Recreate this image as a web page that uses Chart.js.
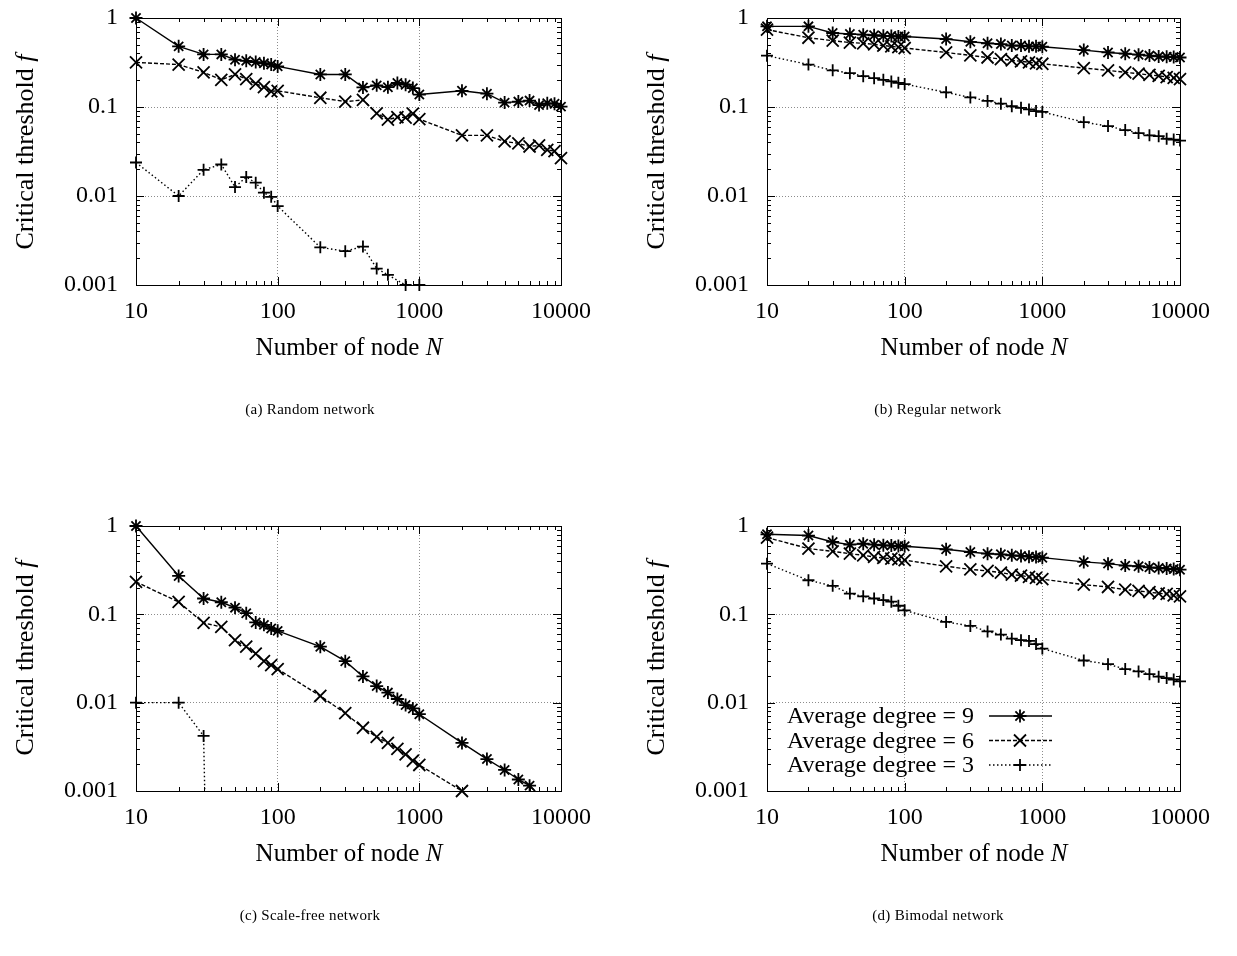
<!DOCTYPE html>
<html>
<head>
<meta charset="utf-8">
<script src="https://cdn.jsdelivr.net/npm/chart.js@4.4.1/dist/chart.umd.min.js"></script>
<style>
  body { margin: 0; background: #fff; width: 1237px; height: 956px; position: relative; overflow: hidden;
         font-family: "Liberation Serif", "Times New Roman", serif; color: #000; }
  canvas { position: absolute; }
  .yt { position: absolute; font-size: 26px; white-space: nowrap; transform: translate(-50%, -50%) rotate(-90deg); }
  .xt { position: absolute; font-size: 25px; white-space: nowrap; transform: translate(-50%, -50%); }
  .cap { position: absolute; font-size: 15px; letter-spacing: 0.3px; white-space: nowrap; transform: translate(-50%, -50%); }
</style>
</head>
<body>
<canvas id="chart-a" width="618" height="370" style="left:0;top:0"></canvas>
<canvas id="chart-b" width="619" height="370" style="left:618px;top:0"></canvas>
<canvas id="chart-c" width="618" height="370" style="left:0;top:508px"></canvas>
<canvas id="chart-d" width="619" height="370" style="left:618px;top:508px"></canvas>

<div class="yt" style="left:25px;top:152px">Critical threshold <i>f</i></div>
<div class="yt" style="left:656px;top:152px">Critical threshold <i>f</i></div>
<div class="yt" style="left:25px;top:658px">Critical threshold <i>f</i></div>
<div class="yt" style="left:656px;top:658px">Critical threshold <i>f</i></div>

<div class="xt" style="left:349px;top:347px">Number of node <i>N</i></div>
<div class="xt" style="left:974px;top:347px">Number of node <i>N</i></div>
<div class="xt" style="left:349px;top:853px">Number of node <i>N</i></div>
<div class="xt" style="left:974px;top:853px">Number of node <i>N</i></div>

<div class="cap" style="left:310px;top:409px">(a) Random network</div>
<div class="cap" style="left:938px;top:409px">(b) Regular network</div>
<div class="cap" style="left:310px;top:915px">(c) Scale-free network</div>
<div class="cap" style="left:938px;top:915px">(d) Bimodal network</div>

<script>
// ネットワークサイズ N
const nodeCounts = [10, 20, 30, 40, 50, 60, 70, 80, 90, 100, 200, 300, 400, 500, 600, 700, 800, 900,
                    1000, 2000, 3000, 4000, 5000, 6000, 7000, 8000, 9000, 10000];
const xTickValues = [10, 100, 1000, 10000];
const yTickValues = [0.001, 0.01, 0.1, 1];
const seriesLabels = ['Average degree = 9', 'Average degree = 6', 'Average degree = 3'];

// (a) Random network
const randomDeg9 = [1.0, 0.48, 0.39, 0.39, 0.34, 0.33, 0.32, 0.31, 0.30, 0.286, 0.232, 0.232, 0.166, 0.175,
                    0.167, 0.186, 0.178, 0.163, 0.138, 0.152, 0.141, 0.112, 0.115, 0.118, 0.105, 0.110, 0.109, 0.101];
const randomDeg6 = [0.317, 0.30, 0.245, 0.202, 0.232, 0.206, 0.183, 0.167, 0.15, 0.152, 0.127, 0.115, 0.12, 0.085,
                    0.072, 0.077, 0.076, 0.084, 0.073, 0.048, 0.048, 0.041, 0.039, 0.036, 0.037, 0.033, 0.032, 0.0266];
const randomDeg3 = [0.0238, 0.010, 0.0197, 0.0226, 0.0126, 0.0163, 0.0141, 0.0109, 0.0098, 0.0077, 0.00265, 0.0024,
                    0.0027, 0.00153, 0.0013, null, 0.001, null, 0.001, null, null, null, null, null, null, null, null, null];

// (b) Regular network
const regularDeg9 = [0.806, 0.806, 0.678, 0.66, 0.65, 0.64, 0.63, 0.627, 0.62, 0.62, 0.58, 0.54, 0.52, 0.51,
                     0.49, 0.49, 0.48, 0.48, 0.476, 0.436, 0.41, 0.397, 0.387, 0.378, 0.37, 0.367, 0.364, 0.36];
const regularDeg6 = [0.74, 0.6, 0.556, 0.53, 0.52, 0.505, 0.49, 0.48, 0.47, 0.46, 0.41, 0.38, 0.36, 0.346,
                     0.334, 0.326, 0.318, 0.31, 0.306, 0.274, 0.258, 0.245, 0.237, 0.229, 0.224, 0.217, 0.213, 0.206];
const regularDeg3 = [0.377, 0.3, 0.258, 0.24, 0.222, 0.211, 0.202, 0.194, 0.187, 0.181, 0.146, 0.128, 0.117, 0.109,
                     0.102, 0.098, 0.094, 0.09, 0.088, 0.0676, 0.061, 0.055, 0.051, 0.048, 0.047, 0.044, 0.043, 0.042];

// (c) Scale-free network
const scaleFreeDeg9 = [1.0, 0.272, 0.151, 0.137, 0.119, 0.103, 0.081, 0.076, 0.069, 0.065, 0.043, 0.0295, 0.0198, 0.0154,
                       0.013, 0.011, 0.0094, 0.0086, 0.0074, 0.0035, 0.0023, 0.00173, 0.00135, 0.00115, 0.0009, null, null, null];
const scaleFreeDeg6 = [0.233, 0.138, 0.08, 0.072, 0.051, 0.043, 0.036, 0.0295, 0.0266, 0.024, 0.0119, 0.0076, 0.0052, 0.0041,
                       0.0035, 0.003, 0.0026, 0.0022, 0.00197, 0.001, null, null, null, null, null, null, null, null];
const scaleFreeDeg3 = [0.01, 0.01, 0.0042, 1e-12, null, null, null, null, null, null, null, null, null, null,
                       null, null, null, null, null, null, null, null, null, null, null, null, null, null];

// (d) Bimodal network
const bimodalDeg9 = [0.805, 0.78, 0.66, 0.615, 0.63, 0.615, 0.605, 0.6, 0.594, 0.59, 0.545, 0.508, 0.486, 0.478,
                     0.466, 0.458, 0.45, 0.446, 0.438, 0.392, 0.375, 0.356, 0.35, 0.34, 0.335, 0.33, 0.326, 0.32];
const bimodalDeg6 = [0.74, 0.555, 0.517, 0.486, 0.466, 0.446, 0.435, 0.427, 0.42, 0.41, 0.35, 0.323, 0.31, 0.297,
                     0.282, 0.275, 0.265, 0.258, 0.25, 0.217, 0.204, 0.19, 0.184, 0.178, 0.173, 0.17, 0.164, 0.16];
const bimodalDeg3 = [0.375, 0.243, 0.21, 0.172, 0.16, 0.151, 0.145, 0.139, 0.125, 0.111, 0.082, 0.074, 0.064, 0.059,
                     0.053, 0.051, 0.05, 0.046, 0.041, 0.03, 0.0273, 0.024, 0.0226, 0.021, 0.0197, 0.019, 0.0183, 0.0174];

// 線種とマーカー (gnuplot風)
const lineStyles = [
  { dash: [], point: 'star', radius: 6.5 },
  { dash: [4, 2], point: 'crossRot', radius: 8.5 },
  { dash: [1.5, 2.5], point: 'cross', radius: 6 }
];
const FONT = '"Liberation Serif", "Times New Roman", serif';

// 枠線と内向きの目盛り
const framePlugin = {
  id: 'frame',
  afterDraw(chart) {
    const { ctx, chartArea: a, scales } = chart;
    const xs = scales.x, ys = scales.y;
    ctx.save();
    ctx.strokeStyle = '#000';
    ctx.lineWidth = 1;
    ctx.beginPath();
    for (let e = 1; e <= 4; e++) {
      for (let m = 1; m <= 9; m++) {
        const v = m * Math.pow(10, e);
        if (v > 10000) break;
        const px = Math.round(xs.getPixelForValue(v)) + 0.5;
        const len = m === 1 ? 8 : 4;
        ctx.moveTo(px, a.bottom); ctx.lineTo(px, a.bottom - len);
        ctx.moveTo(px, a.top); ctx.lineTo(px, a.top + len);
      }
    }
    for (let e = -3; e <= 0; e++) {
      for (let m = 1; m <= 9; m++) {
        const v = m * Math.pow(10, e);
        if (v > 1) break;
        const py = Math.round(ys.getPixelForValue(v)) + 0.5;
        const len = m === 1 ? 8 : 4;
        ctx.moveTo(a.left, py); ctx.lineTo(a.left + len, py);
        ctx.moveTo(a.right, py); ctx.lineTo(a.right - len, py);
      }
    }
    ctx.stroke();
    ctx.strokeRect(Math.round(a.left) + 0.5, Math.round(a.top) + 0.5,
                   Math.round(a.right - a.left), Math.round(a.bottom - a.top));
    ctx.restore();
  }
};

// 凡例 (グラフ内、左下)
const legendPlugin = {
  id: 'insideLegend',
  afterDraw(chart, args, opts) {
    if (!opts.show) return;
    const { ctx, chartArea: a } = chart;
    ctx.save();
    ctx.font = '24px ' + FONT;
    ctx.fillStyle = '#000';
    ctx.textAlign = 'right';
    ctx.textBaseline = 'middle';
    chart.data.datasets.forEach((ds, i) => {
      const y = a.top + 190 + i * 24.5;
      ctx.fillText(ds.label, a.left + 207, y + 1);
      ctx.strokeStyle = '#000';
      ctx.lineWidth = 1.4;
      ctx.setLineDash(lineStyles[i].dash);
      ctx.beginPath();
      ctx.moveTo(a.left + 222, y);
      ctx.lineTo(a.left + 285, y);
      ctx.stroke();
      ctx.setLineDash([]);
      ctx.lineWidth = 1.8;
      Chart.helpers.drawPoint(ctx, { pointStyle: lineStyles[i].point, radius: lineStyles[i].radius, rotation: 0, borderWidth: 1.8 },
                              a.left + 253, y);
    });
    ctx.restore();
  }
};

function gridColor(c) {
  const v = c.tick ? c.tick.value : null;
  if (v === c.scale.min || v === c.scale.max) return 'rgba(0,0,0,0)';
  return '#8c8c8c';
}

function makePanel(id, series, opt) {
  const datasets = series.map((vals, i) => {
    const dives = vals.some(v => v !== null && v < 0.001);
    return {
      label: seriesLabels[i],
      data: nodeCounts.map((n, k) => ({ x: n, y: vals[k] })),
      borderColor: '#000',
      borderWidth: 1.4,
      borderDash: lineStyles[i].dash,
      pointStyle: lineStyles[i].point,
      pointRadius: c => (c.raw && c.raw.y !== null && c.raw.y < 0.001) ? 0 : lineStyles[i].radius,
      pointBorderColor: '#000',
      pointBackgroundColor: '#000',
      pointBorderWidth: 1.8,
      fill: false,
      tension: 0,
      spanGaps: true,
      clip: { left: 10, top: 10, right: 10, bottom: dives ? 0 : 10 }
    };
  });

  return new Chart(document.getElementById(id), {
    type: 'line',
    data: { datasets: datasets },
    options: {
      responsive: false,
      animation: false,
      devicePixelRatio: 1,
      layout: { padding: { top: 18, right: opt.right, left: 0, bottom: 0 } },
      plugins: {
        legend: { display: false },
        tooltip: { enabled: false },
        insideLegend: { show: !!opt.legend }
      },
      scales: {
        x: {
          type: 'logarithmic',
          min: 10, max: 10000,
          afterBuildTicks: s => { s.ticks = xTickValues.map(v => ({ value: v })); },
          afterFit: s => { s.height = opt.xh; s.paddingLeft = 0; s.paddingRight = 0; },
          ticks: { font: { family: FONT, size: 24 }, color: '#000', padding: 12, maxRotation: 0, autoSkip: false,
                   callback: v => String(v) },
          grid: { color: gridColor, drawTicks: false, lineWidth: 1 },
          border: { display: false, dash: [1, 2] }
        },
        y: {
          type: 'logarithmic',
          min: 0.001, max: 1,
          afterBuildTicks: s => { s.ticks = yTickValues.map(v => ({ value: v })); },
          afterFit: s => { s.width = opt.yw; s.paddingTop = 0; s.paddingBottom = 0; },
          ticks: { font: { family: FONT, size: 24 }, color: '#000', padding: 18, autoSkip: false,
                   callback: v => String(v) },
          grid: { color: gridColor, drawTicks: false, lineWidth: 1 },
          border: { display: false, dash: [1, 2] }
        }
      }
    },
    plugins: [framePlugin, legendPlugin]
  });
}

window.addEventListener('load', () => {
  makePanel('chart-a', [randomDeg9, randomDeg6, randomDeg3], { yw: 136, right: 57, xh: 85 });
  makePanel('chart-b', [regularDeg9, regularDeg6, regularDeg3], { yw: 149, right: 57, xh: 85 });
  makePanel('chart-c', [scaleFreeDeg9, scaleFreeDeg6, scaleFreeDeg3], { yw: 136, right: 57, xh: 87 });
  makePanel('chart-d', [bimodalDeg9, bimodalDeg6, bimodalDeg3], { yw: 149, right: 57, xh: 87, legend: true });
});
</script>
</body>
</html>
